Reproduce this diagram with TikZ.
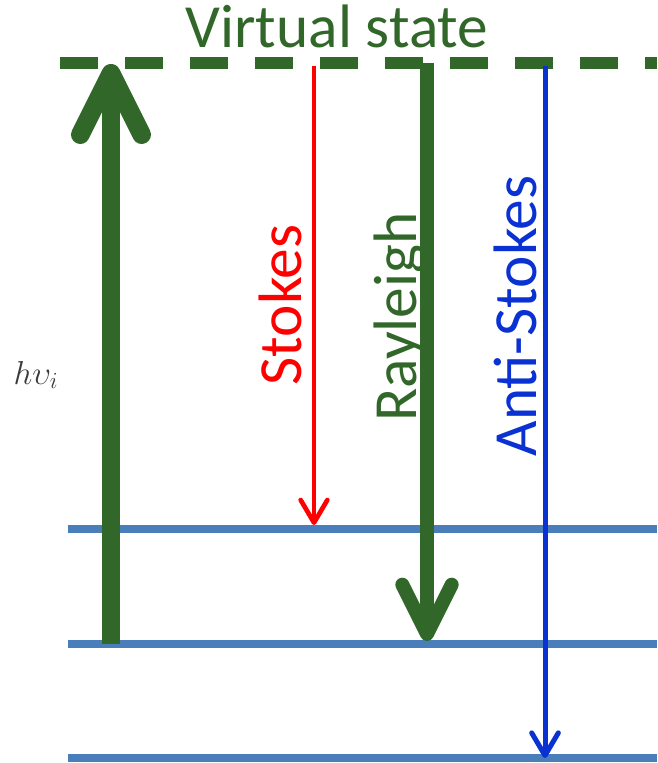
\documentclass[tikz,border=0pt]{standalone}
\usepackage{fontspec}
\setmainfont{Carlito}
\usepackage{tikz}
\usetikzlibrary{arrows.meta}
\definecolor{ramGreen}{HTML}{316729}
\definecolor{ramRed}{HTML}{FF0000}
\definecolor{ramBlue}{HTML}{0A32D2}
\definecolor{ramLevel}{HTML}{4A7EBB}
\definecolor{ramGray}{HTML}{3A3A3A}

\begin{document}
\begin{tikzpicture}[x=0.75pt,y=-0.75pt,
  level/.style={ramLevel,line width=5.5pt},
  virt/.style={ramGreen,line width=9pt,dash pattern=on 28.5pt off 20.25pt},
  lbl/.style={font=\fontsize{46}{52}\selectfont,inner sep=0pt,anchor=base},
  bigarr/.style={ramGreen,line width=14pt,
                 -{Straight Barb[round,length=46pt,width=46pt]}},
  rayarr/.style={ramGreen,line width=10.5pt,
                 -{Straight Barb[round,length=37pt,width=37pt]}},
  stkarr/.style={ramRed,line width=3.5pt,
                 -{Straight Barb[round,length=17pt,width=20pt]}},
  astarr/.style={ramBlue,line width=3.75pt,
                 -{Straight Barb[round,length=17pt,width=20pt]}}]
\useasboundingbox (0,0) rectangle (657,763);

%% Energy levels
\coordinate (lv1w) at (68,529); \coordinate (lv1e) at (657,529);
\coordinate (lv2w) at (68,644); \coordinate (lv2e) at (657,644);
\coordinate (lv3w) at (68,758); \coordinate (lv3e) at (657,758);
\draw[level] (lv1w)--(lv1e);
\draw[level] (lv2w)--(lv2e);
\draw[level] (lv3w)--(lv3e);

%% Virtual state
\coordinate (vsw) at (60,63); \coordinate (vse) at (657,63);
\draw[virt] (vsw)--(vse);
\node[lbl,text=ramGreen] (vstate) at (337,48) {Virtual state};

%% Excitation
\coordinate (exB) at (111,644);
\coordinate (exT) at (111,64);
\draw[bigarr] (exB)--(exT);
\node[font=\fontsize{26}{30}\selectfont,text=ramGray,inner sep=0pt,anchor=base]
  (hv) at (36,384) {$h\upsilon_i$};

%% Scattering
\coordinate (stT) at (314,66);  \coordinate (stB) at (314,525);
\coordinate (rlT) at (427,63);  \coordinate (rlB) at (427,641);
\coordinate (asT) at (545,66);  \coordinate (asB) at (545,758);
\draw[stkarr] (stT)--(stB);
\draw[rayarr] (rlT)--(rlB);
\draw[astarr] (asT)--(asB);

\node[lbl,rotate=90,text=ramRed]   (stk) at (301,305) {Stokes};
\node[lbl,rotate=90,text=ramGreen] (ray) at (416,317) {Rayleigh};
\node[lbl,rotate=90,text=ramBlue]  (ast) at (536,316) {Anti-Stokes};
\end{tikzpicture}
\end{document}
